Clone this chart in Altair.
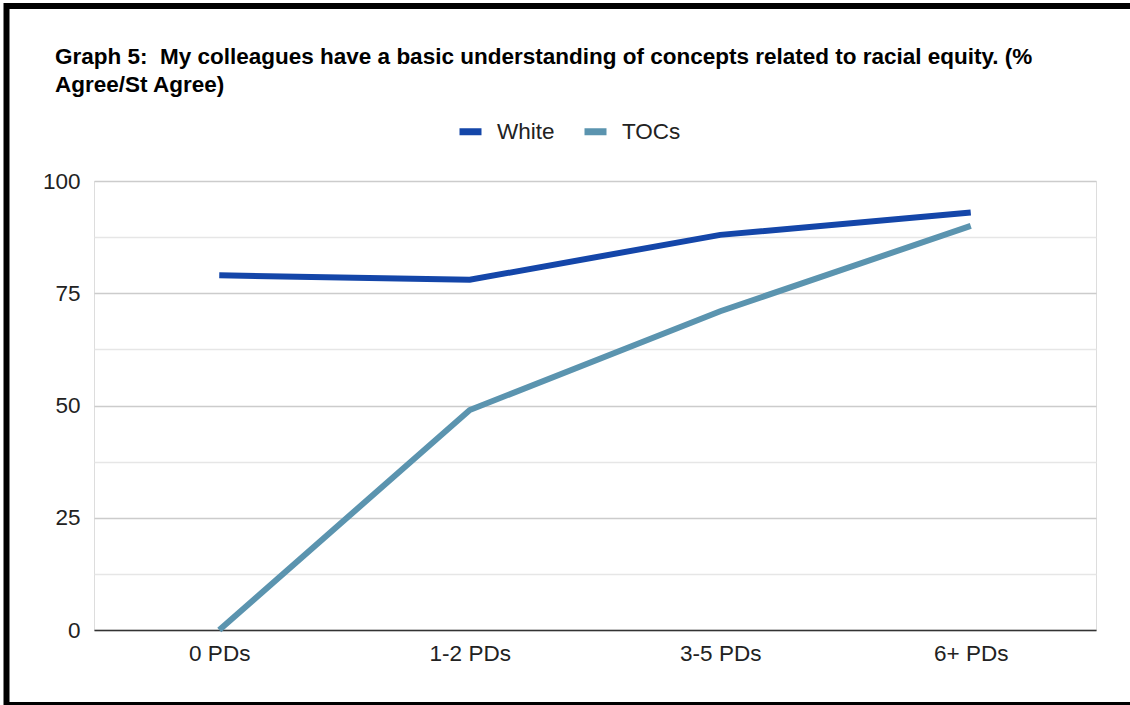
import altair as alt
import pandas as pd

categories = ["0 PDs", "1-2 PDs", "3-5 PDs", "6+ PDs"]
white = [79, 78, 88, 93]
tocs = [0, 49, 71, 90]
series_names = ["White", "TOCs"]
colors = ["#1446a9", "#5b94af"]
y_ticks = [0, 12.5, 25, 37.5, 50, 62.5, 75, 87.5, 100]
title_lines = [
    "Graph 5:\u00a0 My colleagues have a basic understanding of concepts related to racial equity. (%",
    "Agree/St Agree)",
]

rows = []
for c, w, t in zip(categories, white, tocs):
    rows.append({"cat": c, "series": "White", "value": w})
    rows.append({"cat": c, "series": "TOCs", "value": t})
df = pd.DataFrame(rows)

FONT = "Liberation Sans"
FS = 22.5
PLOT_LEFT, PLOT_TOP = 94, 181
W, H = 1002, 449

lines = alt.Chart(df).mark_line(strokeWidth=6, strokeCap="butt").encode(
    x=alt.X("cat:N", sort=categories, title=None,
            scale=alt.Scale(type="point", padding=0.5),
            axis=alt.Axis(labelAngle=0, labelFontSize=FS, labelFont=FONT,
                          labelColor="#222222", labelPadding=12, ticks=False,
                          domainColor="#333333", domainWidth=1.5, grid=False)),
    y=alt.Y("value:Q", title=None,
            scale=alt.Scale(domain=[0, 100], nice=False),
            axis=alt.Axis(values=y_ticks, labelFontSize=FS, labelFont=FONT,
                          labelColor="#222222", labelPadding=14, ticks=False,
                          domain=False,
                          labelExpr="datum.value % 25 === 0 ? datum.label : ''",
                          gridColor={"condition": {"test": "datum.value % 25 === 0", "value": "#cccccc"},
                                     "value": "#e6e6e6"},
                          gridWidth=1.3)),
    color=alt.Color("series:N", sort=series_names, title=None,
                    scale=alt.Scale(domain=series_names, range=colors),
                    legend=alt.Legend(orient="none", direction="horizontal",
                                      legendX=362, legendY=-64,
                                      symbolType="stroke", symbolStrokeWidth=7,
                                      symbolSize=484, labelFontSize=FS,
                                      labelFont=FONT, labelColor="#222222",
                                      labelOffset=12, columnPadding=15)),
    order=alt.Order("series:N"),
)

one = pd.DataFrame({"a": [0]})
title1 = alt.Chart(one).mark_text(
    text=title_lines[0], align="left", baseline="alphabetic", font=FONT,
    fontSize=FS, fontWeight="bold", color="#000000"
).encode(x=alt.value(55 - PLOT_LEFT), y=alt.value(64 - PLOT_TOP))
title2 = alt.Chart(one).mark_text(
    text=title_lines[1], align="left", baseline="alphabetic", font=FONT,
    fontSize=FS, fontWeight="bold", color="#000000"
).encode(x=alt.value(55 - PLOT_LEFT), y=alt.value(92 - PLOT_TOP))

frame = alt.Chart(one).mark_rect(
    filled=False, stroke="black", strokeWidth=6
).encode(
    x=alt.value(6.5 - PLOT_LEFT), x2=alt.value(1136 - PLOT_LEFT),
    y=alt.value(6 - PLOT_TOP), y2=alt.value(705 - PLOT_TOP),
)

chart = alt.layer(lines, title1, title2, frame).properties(
    width=W, height=H,
    autosize=alt.AutoSizeParams(type="none"),
    padding={"left": PLOT_LEFT, "top": PLOT_TOP,
             "right": 1130 - PLOT_LEFT - W, "bottom": 705 - PLOT_TOP - H},
).configure_view(stroke=None).configure(background="white")

chart.save("out.html", embed_options={"renderer": "svg", "actions": False})
